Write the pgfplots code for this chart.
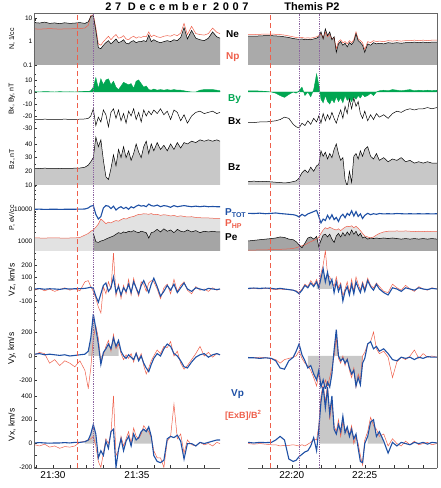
\documentclass[border=0pt]{standalone}
\usepackage{fontspec}
\setmainfont{Liberation Sans}
\usepackage{pgfplots}
\usepackage{pgfplotstable}
\pgfplotsset{compat=1.18}

\definecolor{cblue}{RGB}{30,80,165}
\definecolor{cred}{RGB}{238,95,75}
\definecolor{cgreen}{RGB}{0,166,81}
\definecolor{fillN}{RGB}{170,170,170}
\definecolor{fillBz}{RGB}{200,200,200}
\definecolor{fillPh}{RGB}{226,226,226}
\definecolor{fillPe}{RGB}{165,165,165}
\definecolor{fillV}{RGB}{200,200,200}
\definecolor{cdot}{RGB}{140,100,160}

% Left interval: minutes after 21:00
\pgfplotstableread{
t Ne Np By Bx Bz Pt Ph Pe Vzp Vze Vyp Vye Vxp Vxe
28.9 6.5 3.5 0.3 -22.8 22.2 10000 1300 1000 0 -10 15 10 5 -10
29.2 6.2 3.4 0.0 -22.9 22.0 10100 1300 1000 3 5 20 30 8 -20
29.5 6.8 3.5 0.4 -22.7 22.3 9900 1290 1000 -2 -15 10 20 5 -5
29.8 6.0 3.6 0.2 -22.8 22.1 10000 1310 1000 2 0 15 -60 3 -30
30.1 6.3 3.5 0.0 -22.9 22.2 10050 1300 1000 0 -20 10 -30 5 -20
30.4 5.8 3.4 0.3 -22.8 22.0 9950 1300 1000 -3 -5 5 -80 5 -40
30.7 6.4 3.5 0.1 -22.7 22.2 10000 1290 1000 3 10 10 -40 8 -25
31.0 6.0 3.5 0.2 -22.8 22.1 10000 1300 1000 0 -10 0 -60 5 -30
31.3 6.2 3.6 0.0 -22.9 22.3 10050 1310 1000 2 5 5 -90 10 -20
31.6 6.5 3.6 0.3 -22.7 22.4 10100 1350 1000 3 -15 10 -40 10 10
31.9 6.0 3.8 0.5 -22.5 23.0 10200 1600 1000 5 60 15 -120 15 20
32.1 7.0 5.0 0.5 -22.0 24.5 11000 1800 1000 10 70 40 -270 30 30
32.25 12 13 1.0 -20 27 12500 2100 1000 15 20 150 -100 80 40
32.4 13 14 4 -14 30 13000 2300 1800 5 -20 350 150 160 60
32.55 3.0 4.0 12 -28 45 7000 2800 1000 -60 -80 230 250 80 -20
32.7 0.55 0.8 3 -21 38 5000 3500 950 -110 -150 100 150 -120 -150
32.85 0.5 0.7 11 -25 43 6000 5000 1050 -40 -200 -70 -50 -60 -200
33.0 0.7 1.0 6 -15 28 11000 4300 1100 30 20 30 10 -100 -80
33.15 0.9 1.3 10 -19 16 13000 3600 1200 50 -40 60 80 20 40
33.3 1.1 1.7 11 -29 14 12500 4000 1300 -20 60 100 130 -40 0
33.45 0.8 1.2 6 -17 22 10500 3800 1400 10 0 60 40 100 80
33.6 1.0 1.6 9 -14 32 12500 4200 1500 100 300 150 180 120 400
33.75 1.3 2.0 4 -22 24 9500 4500 1700 -30 -60 80 60 -200 -100
33.9 0.9 1.4 2 -15 36 11000 4300 1900 20 40 130 100 -50 -60
34.05 1.0 1.5 5 -24 30 12000 4800 1800 -50 -80 40 20 40 60
34.2 1.2 1.8 8 -18 38 10500 5200 2000 10 30 0 -30 -60 -20
34.35 0.85 1.3 7 -26 30 11500 5000 1900 -20 -40 -20 10 20 40
34.5 0.8 1.2 6 -16 35 10000 5500 2100 40 80 10 -20 60 100
34.65 1.0 1.5 7 -20 28 12000 5800 2000 -30 -50 -10 20 -20 0
34.8 1.1 1.7 3 -14 33 11000 6000 2200 60 90 -30 -50 80 130
34.95 0.9 1.4 9 -23 40 12500 6500 2000 10 0 20 30 30 60
35.1 1.0 1.6 10 -17 34 13500 7000 1900 -40 -60 -40 -30 50 40
35.25 1.0 1.5 7 -25 30 12500 7000 2100 30 60 0 20 100 80
35.4 1.1 1.7 4 -15 38 13000 7300 2000 70 40 -60 -80 120 150
35.55 1.0 1.6 5 -20 42 12000 7200 1900 20 -20 -100 -150 100 120
35.7 1.9 2.6 2 -16 33 14500 7000 1300 -30 50 -130 -100 140 100
35.85 1.0 1.6 1.5 -19 40 13000 7400 1900 40 70 -70 -40 60 50
36.0 1.2 1.9 2.5 -15 35 12500 6800 2000 90 60 -20 0 -100 -60
36.2 1.0 1.6 1.5 -18 41 13500 7000 2400 20 0 20 50 -150 -120
36.4 0.9 1.5 2 -14 36 12000 6500 2000 -60 -80 0 20 -160 -120
36.6 1.0 1.7 1.5 -19 39 13000 6800 2500 -20 10 60 80 -140 -200
36.8 1.1 1.8 2 -16 35 12500 6600 2100 30 40 100 70 40 20
37.0 1.0 1.7 1.5 -23 40 11500 6200 2300 -10 -40 80 120 60 60
37.2 1.2 2.0 2 -15 36 13000 6500 1900 40 80 20 0 50 330
37.4 1.1 1.8 1.5 -17 41 12000 6000 2400 -30 -20 0 40 70 40
37.6 1.5 2.3 1.5 -24 37 12500 6300 2100 10 30 -40 -60 20 80
37.8 4.0 6.0 1 -19 41 13000 6000 2000 50 60 -90 -110 -130 -80
38.0 1.3 2.0 0.5 -26 40 12500 5800 2300 0 -10 -100 -80 0 30
38.25 3.0 4.5 0 -20 42 12000 5900 2000 -20 -40 -50 -30 0 -10
38.5 1.4 2.2 0 -17 41 12500 5600 2200 10 20 -10 20 -20 -20
38.75 1.2 2.0 1.5 -16 43 12000 5500 1900 0 -10 10 80 10 10
39.0 1.1 1.9 2 -18 42 12500 5400 2100 -10 0 20 0 0 -10
39.25 1.4 2.2 2 -17 43 12000 5400 2000 5 -20 -10 30 10 0
39.5 2.6 3.8 2 -16 42 12200 5300 2100 0 10 10 -10 20 -20
39.75 1.6 2.5 1.5 -18 43 12000 5200 2000 -5 -10 20 20 30 10
39.94 1.4 2.2 1 -17 42 12000 5200 2000 0 0 10 10 30 0
}\dataL

% Right interval: minutes after 22:00
\pgfplotstableread{
t Ne Np By Bx Bz Pt Ph Pe Vzp Vze Vyp Vye Vxp Vxe
17.0 1.7 2.0 1 -25.5 12.5 7500 550 1050 5 0 -15 -10 10 0
17.4 1.7 2.0 1 -25.5 12.8 7400 550 1100 8 5 -15 -15 5 -5
17.8 1.75 2.05 0.8 -25 12.5 7600 560 1150 5 0 -20 -10 10 0
18.2 1.8 2.1 0.5 -25 12.6 7300 560 1200 8 5 -15 -15 8 -5
18.6 1.8 2.1 0 -24.5 12.3 7500 570 1250 5 0 -20 -20 10 -10
18.9 1.75 2.05 -1 -24 12.0 7700 580 1300 0 -5 -40 -30 30 -10
19.2 1.7 2.0 -3 -23 11.8 7400 580 1400 5 0 -100 -60 60 -20
19.5 1.6 1.9 -4.5 -21 11.5 7200 590 1350 0 -5 -110 -30 30 -15
19.8 1.5 1.75 -2 -22 11.8 7000 600 1200 -5 -5 -40 -20 -130 -15
20.1 1.35 1.6 0 -27 12.5 6800 620 1150 -10 -10 -10 -10 -150 -10
20.3 1.3 1.5 -1 -29 13 6500 650 1000 -20 -15 40 0 -140 -15
20.5 1.25 1.45 1 -30 15 5800 700 800 -40 -30 100 40 -110 -20
20.7 1.3 1.5 4 -26 19 7000 750 650 -10 0 10 -20 -90 -10
20.9 1.2 1.4 -3 -28 21 6200 800 900 30 40 -40 -60 -70 -20
21.1 1.25 1.45 0 -24 19 7200 900 1300 10 20 -100 -80 -60 -5
21.3 1.2 1.4 -4 -27 23 7800 1000 1400 50 70 -80 -120 -20 10
21.5 1.3 1.5 2 -22 20 8500 1100 1200 20 30 -150 -180 50 40
21.7 1.4 1.6 15 -25 24 9300 1200 1450 60 80 -200 -250 -60 30
21.85 1.6 1.8 6 -20 25 6000 1400 700 10 20 -120 -150 120 150
22.0 2.6 2.2 -6 -26 35 3800 1800 1100 90 130 -260 -230 350 400
22.15 1.3 1.4 -9 -18 31 5000 2300 1600 170 200 -200 -270 480 500
22.3 3.5 2.5 -3 -24 34 4500 2700 1700 60 320 -280 -200 300 350
22.45 1.8 1.6 -8 -19 29 6500 2500 1400 140 120 -220 -250 460 500
22.6 2.6 2.0 -10 -23 33 5000 2800 1700 40 100 -260 -180 250 200
22.75 1.2 1.3 -6 -17 30 6800 2600 1200 80 60 -150 -100 400 350
22.9 1.6 1.5 -9 -22 36 4800 2400 950 -30 20 50 0 120 150
23.05 0.35 0.5 -4 -26 40 5600 2300 1500 60 100 220 150 80 100
23.2 0.8 1.0 -8 -20 33 4200 2500 1800 -20 10 0 -20 160 200
23.35 1.0 1.2 -5 -15 28 6000 2200 1400 30 50 -40 -60 100 60
23.5 0.7 0.9 -9 -22 30 7000 2500 1900 -100 -60 -20 0 230 180
23.65 0.85 1.0 -3 -12 14 5500 2800 1500 -20 0 -60 -80 90 120
23.8 0.6 0.8 -7 -18 9 7500 3000 2000 20 60 -30 -20 140 100
23.95 0.9 1.1 -5 -6 20 6500 2900 1600 -50 -30 -100 -120 60 80
24.1 0.75 0.9 -8 -14 12 9000 3100 2300 40 80 -150 -180 120 150
24.25 1.0 1.2 -4 -5 31 6200 2700 1700 -40 -20 -120 -100 40 0
24.4 2.2 2.6 -6 -12 33 8500 3000 2100 60 100 -250 -260 80 60
24.55 1.1 1.3 -3 -8 29 6000 2600 1500 10 40 -180 -150 -40 0
24.7 0.9 1.1 -5 -18 35 7200 2200 1800 -30 -10 -240 -200 -150 -100
24.85 0.7 0.9 -2 -22 31 5200 1800 1300 40 60 -60 0 -160 -180
25.0 0.35 0.45 -4 -16 36 6500 1500 1400 -20 0 -20 30 0 30
25.2 0.8 1.0 -3 -24 38 7500 1400 1200 70 90 100 100 60 100
25.4 0.7 0.9 -1 -19 31 6800 1300 1300 20 30 120 120 180 220
25.6 0.9 1.1 -3 -23 29 7300 1400 1250 -10 10 60 200 200 150
25.8 0.8 1.0 0 -18 33 7000 1600 1300 40 50 80 60 60 120
26.0 0.85 1.05 1 -21 28 7400 1800 1250 0 20 40 20 100 60
26.3 0.8 1.0 1.5 -19 30 7200 2000 1300 -30 -20 60 40 20 80
26.6 0.9 1.1 1 -22 27 7300 2100 1250 -50 -30 20 -10 -80 -20
26.9 0.85 1.05 2 -18 29 7200 2100 1300 10 40 -30 -180 10 40
27.2 0.9 1.1 1.5 -16 28 7400 2150 1250 0 10 -40 -50 -20 0
27.5 0.85 1.05 1 -17 30 7300 2100 1200 -20 -10 -10 -10 10 -20
27.8 0.9 1.1 1.5 -15 27 7200 2150 1250 10 30 -20 -30 0 20
28.1 0.9 1.1 2 -14 28 7300 2100 1200 0 0 -10 0 -10 -10
28.4 0.95 1.15 1 -15 26 7200 2050 1250 -10 -20 -30 50 10 20
28.7 0.9 1.1 1.5 -14 27 7300 2100 1200 10 20 -10 -20 0 -10
29.0 0.95 1.15 1.2 -14 26 7200 2050 1250 0 0 -20 20 10 0
29.3 0.9 1.1 1.5 -13 27 7300 2100 1200 -5 -10 -5 -10 -5 10
29.6 0.95 1.15 1.2 -14 26 7200 2050 1250 5 10 -10 0 10 -10
29.95 0.95 1.15 1.5 -13 26 7300 2050 1200 0 0 -10 -10 5 0
}\dataR

\pgfplotsset{
  panel/.style={scale only axis, axis line style={draw=none}, tick align=inside,
    tick pos=left, xtick=\empty,
    major tick length=3pt, minor tick length=1.6pt,
    tick style={black!80, line width=0.35pt},
    yticklabel style={font=\fontsize{6.5}{7}\selectfont, inner sep=1.5pt},
    /pgf/number format/assume math mode=true,
    every axis y label/.style={at={(axis description cs:-0.118,0.5)}, rotate=90, anchor=center, font=\fontsize{7}{8}\selectfont}},
  L/.style={panel, width=186pt, xmin=28.87, xmax=39.94, at={(34pt,#1)}, anchor=north west},
  R/.style={panel, width=189pt, xmin=17.0, xmax=29.95, at={(248pt,#1)}, anchor=north west, ytick=\empty},
  bottom/.style={xticklabel style={font=\fontsize{10}{11}\selectfont}, minor tick length=3pt},
  bl/.style={cblue, line width=1.1pt},
  rd/.style={cred, line width=0.5pt},
  bk/.style={black, line width=0.5pt},
}

\begin{document}
\begin{tikzpicture}
\path[use as bounding box] (0,0) rectangle (440pt,488pt);

% ---------- N ----------
\begin{axis}[L=475pt, height=52pt, ymode=log, ymin=0.1, ymax=16.7, log origin y=infty,
  ytick={0.1,1,10}, yticklabels={0.1,1,10},
  minor ytick={0.2,0.3,0.4,0.5,0.6,0.7,0.8,0.9,2,3,4,5,6,7,8,9}, ylabel={N, 1/cc}]
\addplot[fill=fillN, draw=none] table[y=Ne]{\dataL} \closedcycle;
\addplot[rd] table[y=Np]{\dataL};
\addplot[bk] table[y=Ne]{\dataL};
\end{axis}
\begin{axis}[R=475pt, height=52pt, ymode=log, ymin=0.1, ymax=16.7, log origin y=infty]
\addplot[fill=fillN, draw=none] table[y=Ne]{\dataR} \closedcycle;
\addplot[rd] table[y=Np]{\dataR};
\addplot[bk] table[y=Ne]{\dataR};
\end{axis}

% ---------- Bx, By ----------
\begin{axis}[L=423pt, height=68pt, ymin=-34.2, ymax=22.5, ytick={-30,-20,-10,0,10},
  minor ytick={-25,-15,-5,5,15}, ylabel={Bx, By, nT}]
\addplot[fill=cgreen, draw=cgreen, line width=0.4pt] table[y=By]{\dataL} \closedcycle;
\addplot[bk] table[y=Bx]{\dataL};
\end{axis}
\begin{axis}[R=423pt, height=68pt, ymin=-34.2, ymax=22.5]
\addplot[fill=cgreen, draw=cgreen, line width=0.4pt] table[y=By]{\dataR} \closedcycle;
\addplot[bk] table[y=Bx]{\dataR};
\end{axis}

% ---------- Bz ----------
\begin{axis}[L=355pt, height=52pt, ymin=10, ymax=48, ytick={10,20,30,40},
  minor ytick={15,25,35,45}, ylabel={Bz, nT}]
\addplot[fill=fillBz, draw=none] table[y=Bz]{\dataL} \closedcycle;
\addplot[bk] table[y=Bz]{\dataL};
\end{axis}
\begin{axis}[R=355pt, height=52pt, ymin=10, ymax=48]
\addplot[fill=fillBz, draw=none] table[y=Bz]{\dataR} \closedcycle;
\addplot[bk] table[y=Bz]{\dataR};
\end{axis}

% ---------- Pressure ----------
\begin{axis}[L=303pt, height=66pt, ymode=log, ymin=516, ymax=56200, log origin y=infty,
  ytick={1000,10000}, yticklabels={1000,10000},
  minor ytick={600,700,800,900,2000,3000,4000,5000,6000,7000,8000,9000,20000,30000,40000,50000},
  ylabel={P, eV/cc}]
\addplot[fill=fillPh, draw=none] table[y=Ph]{\dataL} \closedcycle;
\addplot[fill=fillPe, draw=none, restrict x to domain=32.4:40] table[y=Pe]{\dataL} \closedcycle;
\addplot[rd] table[y=Ph]{\dataL};
\addplot[bk, restrict x to domain=32.4:40] table[y=Pe]{\dataL};
\addplot[bl] table[y=Pt]{\dataL};
\end{axis}
\begin{axis}[R=303pt, height=66pt, ymode=log, ymin=516, ymax=56200, log origin y=infty]
\addplot[fill=fillPh, draw=none] table[y=Ph]{\dataR} \closedcycle;
\addplot[fill=fillPe, draw=none] table[y=Pe]{\dataR} \closedcycle;
\addplot[rd] table[y=Ph]{\dataR};
\addplot[bk] table[y=Pe]{\dataR};
\addplot[bl] table[y=Pt]{\dataR};
\end{axis}

% ---------- Vz ----------
\begin{axis}[L=237pt, height=64pt, ymin=-217, ymax=317, ytick={-100,0,100,200},
  minor ytick={-200,-150,-50,50,150,250,300}, ylabel={Vz, km/s},
  ylabel style={font=\fontsize{8.5}{9}\selectfont, xshift=3pt}]
\addplot[rd] table[y=Vze]{\dataL};
\addplot[bl] table[y=Vzp]{\dataL};
\end{axis}
\begin{axis}[R=237pt, height=64pt, ymin=-217, ymax=317]
\addplot[fill=fillV, draw=none, restrict x to domain=21.7:22.8] table[y=Vzp]{\dataR} \closedcycle;
\addplot[rd] table[y=Vze]{\dataR};
\addplot[bl] table[y=Vzp]{\dataR};
\end{axis}

% ---------- Vy ----------
\begin{axis}[L=173pt, height=73pt, ymin=-267, ymax=342, ytick={-200,0,200},
  minor ytick={-100,100,300}, ylabel={Vy, km/s},
  ylabel style={font=\fontsize{8.5}{9}\selectfont, xshift=3pt}]
\addplot[fill=fillV, draw=none, restrict x to domain=32.1:33.95] table[y=Vyp]{\dataL} \closedcycle;
\addplot[rd] table[y=Vye]{\dataL};
\addplot[bl] table[y=Vyp]{\dataL};
\end{axis}
\begin{axis}[R=173pt, height=73pt, ymin=-267, ymax=342]
\addplot[fill=fillV, draw=none, restrict x to domain=21.1:24.9] table[y=Vyp]{\dataR} \closedcycle;
\addplot[rd] table[y=Vye]{\dataR};
\addplot[bl] table[y=Vyp]{\dataR};
\end{axis}

% ---------- Vx ----------
\begin{axis}[L=100pt, height=80pt, bottom, ymin=-205, ymax=466, ytick={-200,0,200,400},
  minor ytick={-100,100,300}, ylabel={Vx, km/s},
  ylabel style={font=\fontsize{8.5}{9}\selectfont, xshift=3pt},
  xtick={30,35}, xticklabels={21:30,21:35}, minor xtick={29,31,32,33,34,36,37,38,39}]
\addplot[fill=fillV, draw=none, restrict x to domain=31.85:32.6] table[y=Vxp]{\dataL} \closedcycle;
\addplot[fill=fillV, draw=none, restrict x to domain=34.75:35.9] table[y=Vxp]{\dataL} \closedcycle;
\addplot[rd] table[y=Vxe]{\dataL};
\addplot[bl] table[y=Vxp]{\dataL};
\coordinate (a1) at (axis cs:31.43,-205);
\coordinate (a2) at (axis cs:32.38,-205);
\end{axis}
\begin{axis}[R=100pt, height=80pt, bottom, ymin=-205, ymax=466,
  xtick={20,25}, xticklabels={22:20,22:25}, minor xtick={18,19,21,22,23,24,26,27,28,29}]
\addplot[fill=fillV, draw=none, restrict x to domain=21.8:24.45] table[y=Vxp]{\dataR} \closedcycle;
\addplot[fill=fillV, draw=none, restrict x to domain=25.15:26.35] table[y=Vxp]{\dataR} \closedcycle;
\addplot[rd] table[y=Vxe]{\dataR};
\addplot[bl] table[y=Vxp]{\dataR};
\coordinate (b1) at (axis cs:18.5,-205);
\coordinate (b2) at (axis cs:20.49,-205);
\coordinate (b3) at (axis cs:21.86,-205);
\end{axis}

% reference lines
\draw[cred, line width=0.6pt, dash pattern=on 5pt off 3pt] (a1) -- ++(0,455pt);
\draw[cred, line width=0.6pt, dash pattern=on 5pt off 3pt] (b1) -- ++(0,455pt);
\draw[cdot, line width=0.5pt, dash pattern=on 0.8pt off 1pt] (a2) -- ++(0,455pt);
\draw[cdot, line width=0.5pt, dash pattern=on 0.8pt off 1pt] (b2) -- ++(0,455pt);
\draw[cdot, line width=0.5pt, dash pattern=on 0.8pt off 1pt] (b3) -- ++(0,455pt);

% frame
\draw[black!60, line width=0.5pt] (34pt,20pt) -- (34pt,475pt) -- (437pt,475pt) -- (437pt,20pt);
\draw[black!60, line width=0.5pt] (34pt,20pt) -- (220pt,20pt);
\draw[black!60, line width=0.5pt] (248pt,20pt) -- (437pt,20pt);

% title
\node[font=\fontsize{11}{12}\selectfont\bfseries\addfontfeature{LetterSpace=33}] at (177pt,481pt) {27 December 2007};
\node[font=\fontsize{11}{12}\selectfont\bfseries] at (312pt,481pt) {Themis P2};

% middle labels
\begin{scope}[every node/.style={anchor=west, inner sep=0pt, font=\fontsize{10}{11}\selectfont\bfseries}]
\node[black] at (226pt,454pt) {Ne};
\node[cred] at (226pt,431pt) {Np};
\node[cgreen] at (228pt,389pt) {By};
\node[black] at (228pt,367pt) {Bx};
\node[black] at (228pt,321pt) {Bz};
\node[cblue] at (225pt,275pt) {P\textsubscript{TOT}};
\node[cred] at (225pt,264pt) {P\textsubscript{HP}};
\node[black] at (225pt,251pt) {Pe};
\node[cblue] at (231pt,94pt) {Vp};
\node[cred, font=\fontsize{9}{10}\selectfont\bfseries] at (225pt,73pt) {[ExB]/B\textsuperscript{2}};
\end{scope}
\end{tikzpicture}
\end{document}
